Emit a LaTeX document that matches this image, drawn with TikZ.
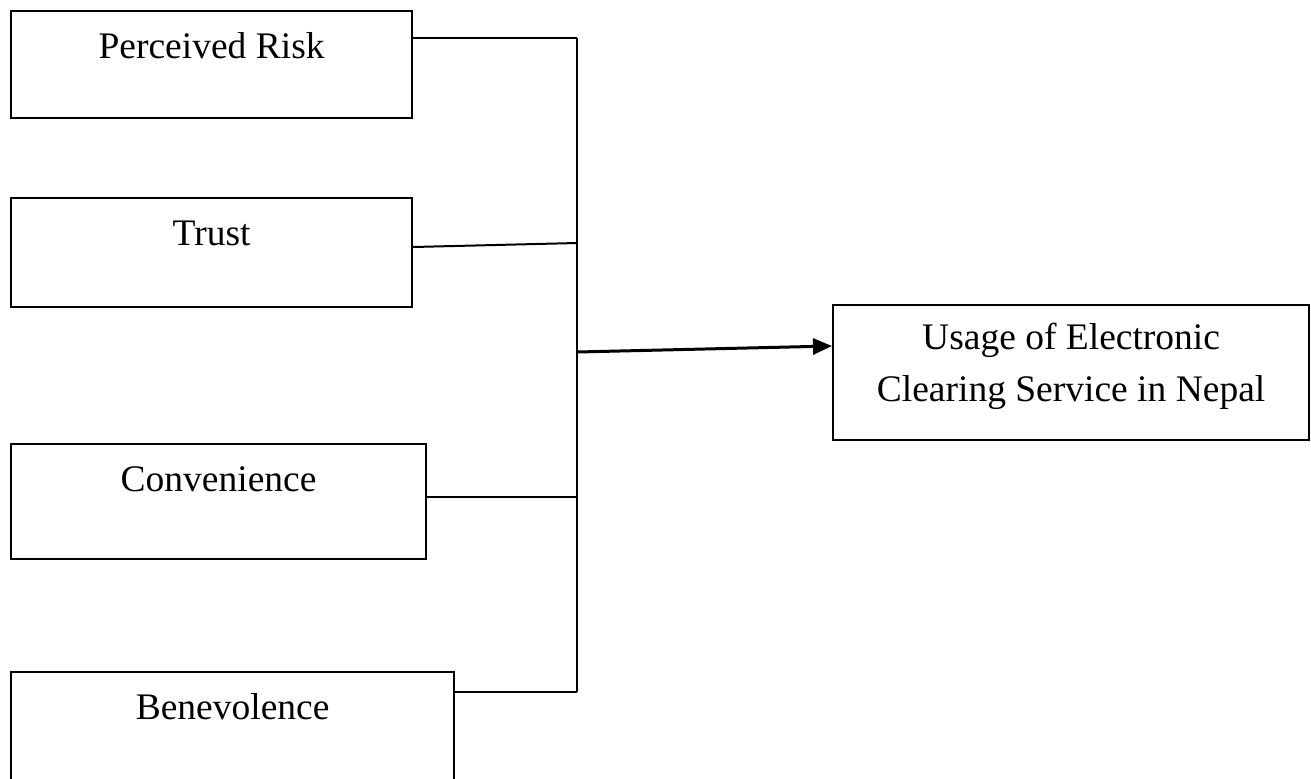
\documentclass[tikz,border=0pt]{standalone}
\usepackage{fontspec}
\setmainfont{Liberation Serif}
\usetikzlibrary{calc,arrows.meta}
\begin{document}
\begin{tikzpicture}[x=0.5pt,y=-0.5pt,
  box/.style={draw,line width=1.1pt,rectangle,inner sep=0pt,anchor=north west},
  lbl/.style={font=\fontsize{18.75pt}{26pt}\selectfont,inner sep=0pt,align=center},
  conn/.style={line width=1pt},
  arr/.style={line width=1.5pt,-{Triangle[length=9.5pt,width=8pt]}}]
\useasboundingbox (0,0) rectangle (1311,778);
\clip (0,0) rectangle (1311,778);
\fill[white] (0,0) rectangle (1311,778);
% boxes
\node[box,minimum width=200.5pt,minimum height=53.5pt] (pr) at (10,10) {};
\node[box,minimum width=200.5pt,minimum height=54.5pt] (tr) at (10,197) {};
\node[box,minimum width=207.5pt,minimum height=57.5pt] (cv) at (10,443) {};
\node[box,minimum width=221.5pt,minimum height=60pt] (bv) at (10,671) {};
\node[box,minimum width=238pt,minimum height=67.5pt] (us) at (832,304) {};
% labels
\node[lbl] (prl) at ($(pr.north)+(0,36)$) {Perceived Risk};
\node[lbl] (trl) at ($(tr.north)+(0,36)$) {Trust};
\node[lbl] (cvl) at ($(cv.north)+(0,36)$) {Convenience};
\node[lbl] (bvl) at ($(bv.north)+(0,36)$) {Benevolence};
\node[lbl] (usl) at ($(us.north)+(0,62)$) {Usage of Electronic\\Clearing Service in Nepal};
% bus coordinates
\coordinate (bt) at (577,38);
\coordinate (jt) at (577,243);
\coordinate (ja) at (577,352);
\coordinate (jc) at (577,497);
\coordinate (bb) at (577,692);
% connectors
\draw[conn] ($(pr.north east)+(0,28)$) -- (bt);
\draw[conn] ($(tr.north east)+(0,50)$) -- (jt);
\draw[conn] ($(cv.north east)+(0,54)$) -- (jc);
\draw[conn] ($(bv.north east)+(0,21)$) -- (bb);
\draw[conn] (bt) -- (bb);
\draw[arr] (ja) -- ($(us.north west)+(0,42)$);
\end{tikzpicture}
\end{document}
